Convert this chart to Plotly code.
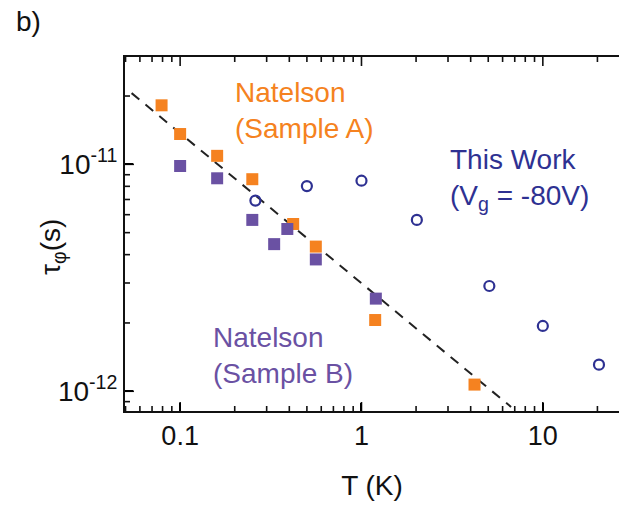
import math
import plotly.graph_objects as go

# Data
T_A = [0.079, 0.10, 0.16, 0.25, 0.42, 0.56, 1.19, 4.2]
tau_A = [1.82e-11, 1.36e-11, 1.09e-11, 8.6e-12, 5.46e-12, 4.34e-12, 2.06e-12, 1.07e-12]

T_B = [0.10, 0.16, 0.25, 0.39, 0.33, 0.56, 1.2]
tau_B = [9.83e-12, 8.68e-12, 5.69e-12, 5.19e-12, 4.45e-12, 3.81e-12, 2.56e-12]

T_W = [0.26, 0.50, 1.0, 2.02, 5.07, 10.0, 20.4]
tau_W = [6.92e-12, 8.02e-12, 8.47e-12, 5.69e-12, 2.91e-12, 1.94e-12, 1.31e-12]

T_fit = [0.054, 6.68]
tau_fit = [2.06e-11, 8.53e-13]

x_tickvals = [0.1, 1, 10]
x_ticktext = ["0.1", "1", "10"]
y_tickvals = [1e-12, 1e-11]
y_ticktext = ["10<sup>-12</sup>", "10<sup>-11</sup>"]

x_minor = [m * d for d in (0.01, 0.1, 1, 10) for m in range(2, 10)]
y_minor = [m * d for d in (1e-13, 1e-12, 1e-11) for m in range(2, 10)]

ORANGE = "#F58220"
PURPLE = "#6A51A3"
NAVY = "#2E3192"
FONT = "Liberation Sans, Arial, sans-serif"

W, H = 619, 507
L, R, TOP, BOT = 125, 619, 57, 411
XR = [-1.304, 1.42]
YR = [-12.087, -10.527]
PW, PH = R - L, BOT - TOP


def px(x):
    return (x - L) / PW


def py(y):
    return (BOT - y) / PH


def in_range(v, rng):
    return rng[0] < math.log10(v) < rng[1]


# tick-mark paths (axis decoration) built from the axis ranges and tick values
def x_tick_path(vals, ln):
    xs, ys = [], []
    dy = ln / PH * (YR[1] - YR[0])
    for v in vals:
        if in_range(v, XR):
            xs += [v, v, None, v, v, None]
            ys += [10 ** YR[0], 10 ** (YR[0] + dy), None, 10 ** YR[1], 10 ** (YR[1] - dy), None]
    return xs, ys


def y_tick_path(vals, ln):
    xs, ys = [], []
    dx = ln / PW * (XR[1] - XR[0])
    for v in vals:
        if in_range(v, YR):
            xs += [10 ** XR[0], 10 ** (XR[0] + dx), None]
            ys += [v, v, None]
    return xs, ys


fig = go.Figure()
fig.add_trace(go.Scatter(x=T_fit, y=tau_fit, mode="lines",
                         line=dict(color="#222222", width=2, dash="10px,8px"),
                         showlegend=False, hoverinfo="skip"))
fig.add_trace(go.Scatter(x=T_A, y=tau_A, mode="markers",
                         marker=dict(symbol="square", size=12, color=ORANGE, line=dict(width=0)),
                         showlegend=False))
fig.add_trace(go.Scatter(x=T_B, y=tau_B, mode="markers",
                         marker=dict(symbol="square", size=12, color=PURPLE, line=dict(width=0)),
                         showlegend=False))
fig.add_trace(go.Scatter(x=T_W, y=tau_W, mode="markers",
                         marker=dict(symbol="circle-open", size=10, color=NAVY, line=dict(width=2.2, color=NAVY)),
                         showlegend=False))

for path, ln in ((x_tick_path(x_tickvals, 9), 9), (x_tick_path(x_minor, 5), 5),
                 (y_tick_path(y_tickvals, 9), 9), (y_tick_path(y_minor, 5), 5)):
    fig.add_trace(go.Scatter(x=path[0], y=path[1], mode="lines",
                             line=dict(color="#111", width=1.6),
                             showlegend=False, hoverinfo="skip", connectgaps=False))

fig.update_xaxes(type="log", range=XR,
                 tickmode="array", tickvals=x_tickvals, ticktext=x_ticktext,
                 ticks="inside", ticklen=8, tickwidth=2, tickcolor="#000",
                 showline=True, linecolor="#111", linewidth=2,
                 mirror=True, showgrid=False, zeroline=False,
                 tickfont=dict(family=FONT, size=27, color="#111"),
                 title=dict(text="T (K)", font=dict(family=FONT, size=28, color="#111"),
                            standoff=25))
fig.update_yaxes(type="log", range=YR,
                 tickmode="array", tickvals=y_tickvals, ticktext=y_ticktext,
                 ticks="inside", ticklen=8, tickwidth=2, tickcolor="#000",
                 showline=True, linecolor="#111", linewidth=2,
                 showgrid=False, zeroline=False,
                 tickfont=dict(family=FONT, size=28, color="#111"))

ann = [
    dict(text="b)", x=px(14), y=py(22), color="#111"),
    dict(text="Natelson<br>(Sample A)", x=px(233), y=py(110), color=ORANGE),
    dict(text="This Work<br>(V<sub>g</sub> = -80V)", x=px(448), y=py(179), color=NAVY),
    dict(text="Natelson<br>(Sample B)", x=px(211), y=py(355), color=PURPLE),
]
for a in ann:
    fig.add_annotation(text=a["text"], x=a["x"], y=a["y"], xref="paper", yref="paper",
                       xanchor="left", yanchor="middle", align="left", showarrow=False,
                       font=dict(family=FONT, size=28, color=a["color"]))

fig.add_annotation(text="τ<sub>φ</sub>(s)", x=px(52), y=py(247), xref="paper", yref="paper",
                   xanchor="center", yanchor="middle", textangle=-90, showarrow=False,
                   font=dict(family=FONT, size=28, color="#111"))

fig.update_layout(width=W, height=H, margin=dict(l=L, r=W - R, t=TOP, b=H - BOT),
                  paper_bgcolor="white", plot_bgcolor="white", showlegend=False)

fig.write_html("out.html")
